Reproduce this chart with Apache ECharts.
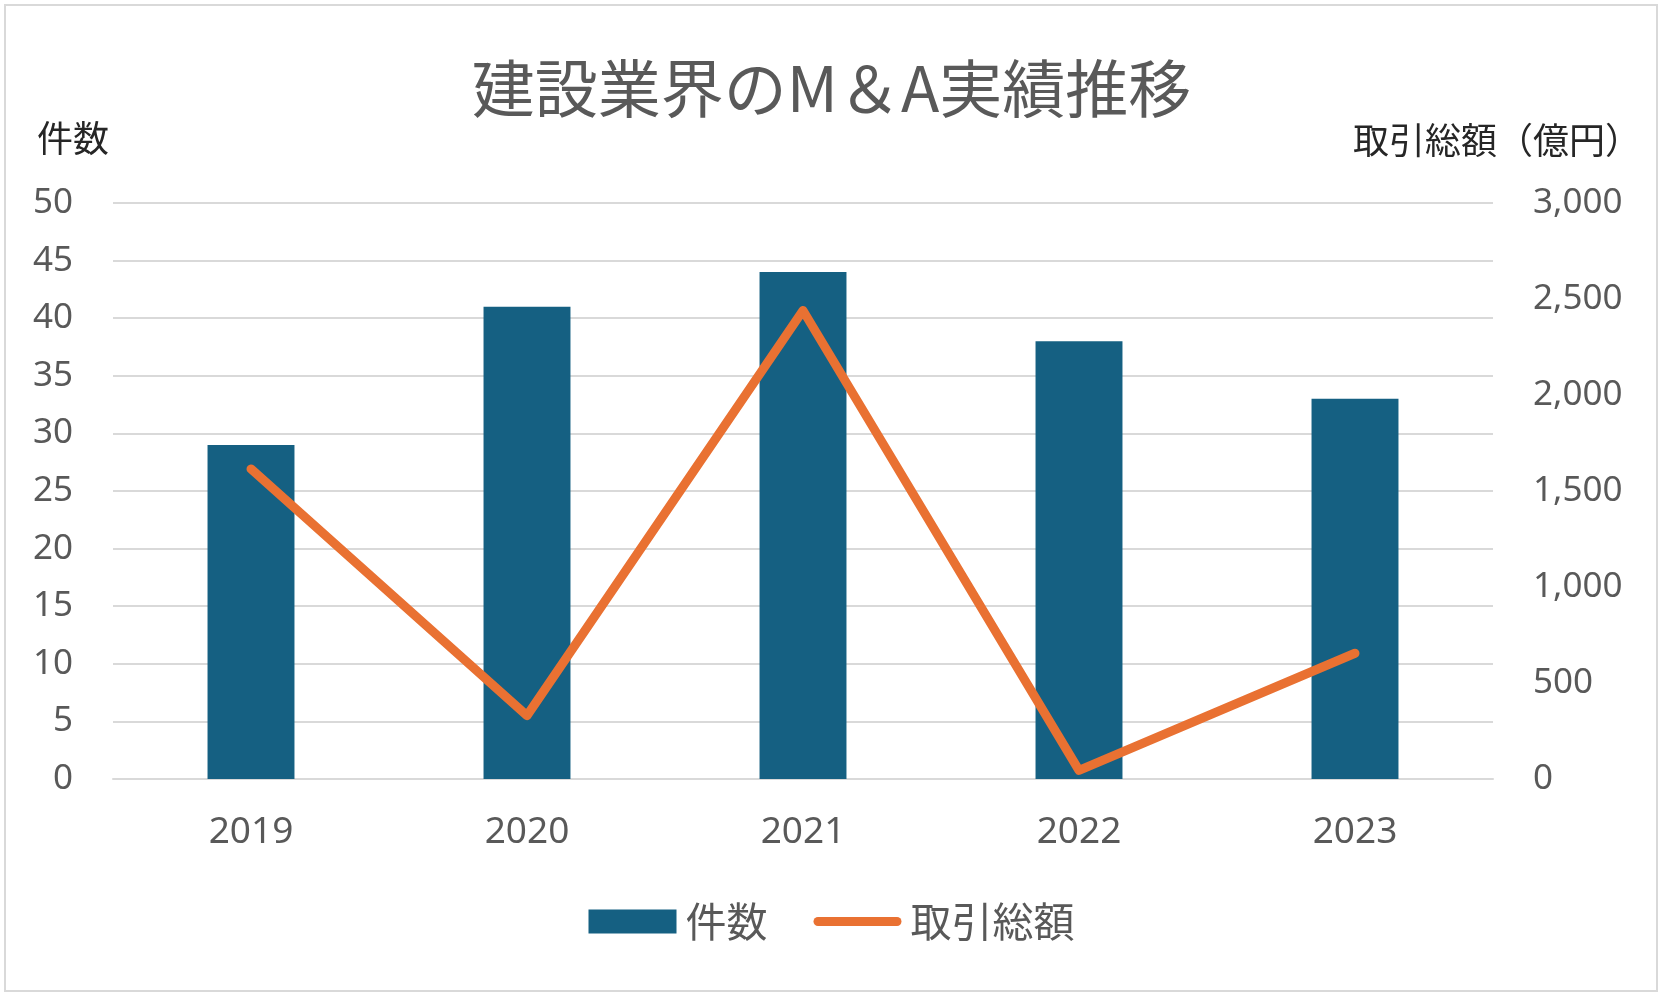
<!DOCTYPE html>
<html>
<head>
<meta charset="utf-8">
<script src="https://cdn.jsdelivr.net/npm/echarts@6/dist/echarts.min.js"></script>
<style>
  html, body { margin: 0; padding: 0; background: #fff; }
  #chart { width: 1663px; height: 999px; }
</style>
</head>
<body>
<div id="chart"></div>
<script>
// data
var years = ['2019', '2020', '2021', '2022', '2023'];
var dealCount = [29, 41, 44, 38, 33];
var dealValue = [1615, 330, 2440, 45, 655];

var cjk = "'Noto Sans CJK JP', sans-serif";
var num = "'Noto Sans', 'Noto Sans CJK JP', sans-serif";
var grey = '#595959';

var chart = echarts.init(document.getElementById('chart'));

var option = {
    backgroundColor: '#fff',
    animation: false,
    title: [
        {
            text: '建設業界のM＆A実績推移',
            left: 'center', top: 57, padding: 0,
            textStyle: { fontFamily: cjk, fontSize: 63, fontWeight: 'normal', color: grey }
        },
        {
            text: '件数',
            left: 37, top: 120, padding: 0,
            textStyle: { fontFamily: cjk, fontSize: 36, fontWeight: 'normal', color: '#262626' }
        },
        {
            text: '取引総額（億円）',
            right: 22, top: 122, padding: 0,
            textStyle: { fontFamily: cjk, fontSize: 36, fontWeight: 'normal', color: '#262626' }
        }
    ],
    legend: {
        bottom: 52,
        left: 'center',
        itemWidth: 88,
        itemHeight: 24,
        itemGap: 46,
        textStyle: { fontFamily: cjk, fontSize: 41, color: grey, padding: [0, 0, 0, 4] },
        data: [
            { name: '件数', icon: 'rect' },
            { name: '取引総額', icon: 'path://M4.5,0 H83.5 A4.5,4.5 0 0 1 83.5,9 H4.5 A4.5,4.5 0 0 1 4.5,0 Z' }
        ]
    },
    graphic: [{
        type: 'rect',
        shape: { x: 5, y: 5, width: 1652, height: 986 },
        style: { fill: 'none', stroke: '#d9d9d9', lineWidth: 2 },
        silent: true
    }],
    grid: { left: 113, right: 170, top: 203, bottom: 220, containLabel: false },
    xAxis: {
        type: 'category',
        data: years,
        axisTick: { show: false },
        axisLine: { lineStyle: { color: '#d9d9d9', width: 2 } },
        axisLabel: { margin: 35, fontFamily: num, fontSize: 37, color: grey }
    },
    yAxis: [
        {
            type: 'value', min: 0, max: 50, interval: 5,
            axisLabel: { margin: 40, fontFamily: num, fontSize: 35, color: grey },
            splitLine: { lineStyle: { color: '#d9d9d9', width: 2 } },
            axisLine: { show: false }, axisTick: { show: false }
        },
        {
            type: 'value', min: 0, max: 3000, interval: 500,
            axisLabel: {
                margin: 40, fontFamily: num, fontSize: 35, color: grey,
                formatter: function (v) { return v.toLocaleString('en-US'); }
            },
            splitLine: { show: false },
            axisLine: { show: false }, axisTick: { show: false }
        }
    ],
    series: [
        {
            name: '件数',
            type: 'bar',
            data: dealCount,
            barWidth: '31.5%',
            itemStyle: { color: '#156082' }
        },
        {
            name: '取引総額',
            type: 'line',
            yAxisIndex: 1,
            data: dealValue,
            symbol: 'none',
            lineStyle: { color: '#e97132', width: 9, cap: 'round', join: 'round' },
            itemStyle: { color: '#e97132' }
        }
    ]
};

chart.setOption(option);
</script>
</body>
</html>
